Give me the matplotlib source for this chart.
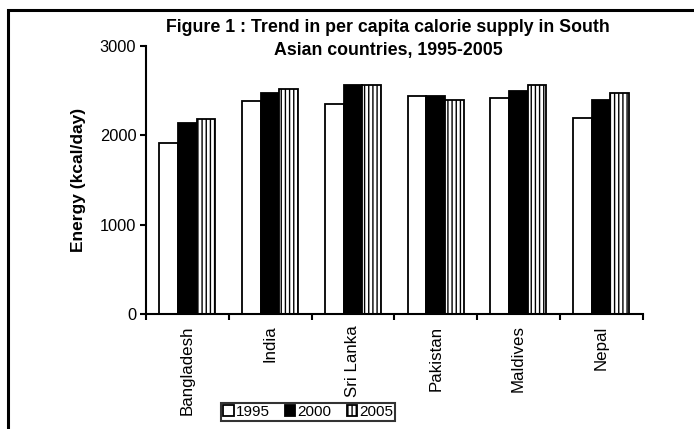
import matplotlib
matplotlib.use("Agg")
import matplotlib.pyplot as plt
import matplotlib.patches as mpatches
import numpy as np

plt.rcParams['font.family'] = ['Liberation Sans', 'DejaVu Sans']
plt.rcParams['hatch.linewidth'] = 1.0

countries = ["Bangladesh", "India", "Sri Lanka", "Pakistan", "Maldives", "Nepal"]
years = ["1995", "2000", "2005"]
v1995 = [1910, 2390, 2350, 2440, 2420, 2190]
v2000 = [2140, 2470, 2560, 2440, 2500, 2400]
v2005 = [2180, 2520, 2560, 2400, 2560, 2480]
yticks = [0, 1000, 2000, 3000]

W, H = 694, 429
fig = plt.figure(figsize=(W / 100, H / 100), dpi=100)
ax_w = 642.5 - 146
ax = fig.add_axes([146 / W, (H - 314.3) / H, ax_w / W, (314.3 - 46) / H])

x = np.arange(len(countries))
bw = 0.225
styles = [dict(color="white", hatch=None), dict(color="black", hatch=None), dict(color="white", hatch="||||")]
series = [v1995, v2000, v2005]
for i, (vals, st, yr) in enumerate(zip(series, styles, years)):
    ax.bar(x + (i - 1) * bw, vals, bw, facecolor=st["color"], edgecolor="black",
           linewidth=1.3, hatch=st["hatch"], label=yr, zorder=2)

ax.set_xlim(-0.5, len(countries) - 0.5)
ax.set_ylim(0, 3000)
ax.set_yticks(yticks)
ax.set_yticklabels([str(t) for t in yticks], fontsize=11.8)
ax.set_xticks(np.arange(len(countries) + 1) - 0.5)
ax.set_xticklabels([])
ax.set_xticks(x, minor=True)
ax.set_xticklabels(countries, minor=True, rotation=90, fontsize=12.2)
ax.tick_params(axis="x", which="minor", length=0, pad=8)
ax.tick_params(axis="both", which="major", length=4, width=1.5, direction="out")
ax.tick_params(axis="y", pad=3)
for s in ["top", "right"]:
    ax.spines[s].set_visible(False)
for s in ["left", "bottom"]:
    ax.spines[s].set_linewidth(1.5)

ax.set_ylabel("Energy (kcal/day)", fontsize=12.5, fontweight="bold")
ax.yaxis.set_label_coords((86 - 146) / ax_w, 0.5)

fig.text(388 / W, (H - 28) / H, "Figure 1 : Trend in per capita calorie supply in South",
         ha="center", va="center", fontsize=12.8, fontweight="bold")
fig.text(388 / W, (H - 50) / H, "Asian countries, 1995-2005",
         ha="center", va="center", fontsize=12.8, fontweight="bold")

leg = fig.legend(loc="center", bbox_to_anchor=(308 / W, (H - 412) / H), ncol=3,
                 fontsize=11, frameon=True, fancybox=False, handlelength=0.7,
                 handleheight=0.7, handletextpad=0.12, columnspacing=1.0,
                 borderpad=0.12, borderaxespad=0)
leg.get_frame().set_edgecolor("black")
leg.get_frame().set_linewidth(1.5)

border = mpatches.Rectangle((8 / W, -0.5), 2, (H - 10) / H + 0.5, transform=fig.transFigure,
                            fill=False, edgecolor="black", linewidth=2.2, zorder=10)
fig.patches.append(border)

fig.savefig("out.png", dpi=100)
